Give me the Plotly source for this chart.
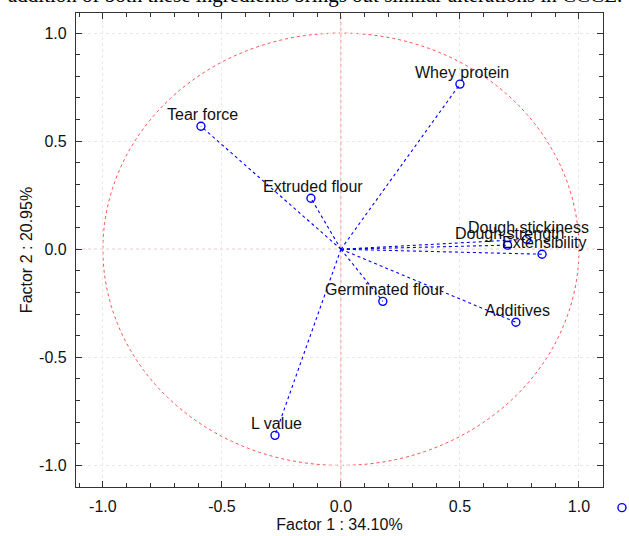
import plotly.graph_objects as go

variables = ["Whey protein", "Tear force", "Extruded flour", "Dough stickiness",
             "Dough strength", "Extensibility", "Additives", "Germinated flour", "L value"]
factor1 = [0.50, -0.588, -0.126, 0.78, 0.70, 0.845, 0.735, 0.176, -0.277]
factor2 = [0.764, 0.569, 0.236, 0.046, 0.019, -0.023, -0.338, -0.241, -0.861]

x_title = "Factor 1 : 34.10%"
y_title = "Factor 2 : 20.95%"
caption = "addition of both these ingredients brings out similar alterations in CCCE."
tick_vals = [-1.0, -0.5, 0.0, 0.5, 1.0]
tick_text = ["-1.0", "-0.5", "0.0", "0.5", "1.0"]
RADIUS = 1.0

FONT = "Arial, Liberation Sans, sans-serif"
BLUE = "#0000ff"
TXT = "#111111"

# vector lines from origin
lx, ly = [], []
for a, b in zip(factor1, factor2):
    lx += [0, a, None]
    ly += [0, b, None]

fig = go.Figure()
fig.add_trace(go.Scatter(x=lx, y=ly, mode="lines", showlegend=False, hoverinfo="skip",
                         line=dict(color=BLUE, width=1.1, dash="dot")))
fig.add_trace(go.Scatter(x=factor1, y=factor2, mode="markers", name="",
                         marker=dict(symbol="circle-open", size=8, color=BLUE, line=dict(width=1.4, color=BLUE)),
                         showlegend=True))

for name, a, b in zip(variables, factor1, factor2):
    fig.add_annotation(x=a, y=b, text=name, showarrow=False, xanchor="center", yanchor="middle",
                       xshift=2, yshift=12, font=dict(family=FONT, size=16, color=TXT))

# unit circle and zero lines (red dotted)
fig.add_shape(type="circle", xref="x", yref="y", x0=-RADIUS, y0=-RADIUS, x1=RADIUS, y1=RADIUS,
              line=dict(color="rgba(255,0,0,0.7)", width=1, dash="dot"), layer="below")
fig.add_shape(type="line", xref="x", yref="paper", x0=0, x1=0, y0=0, y1=1,
              line=dict(color="rgba(255,80,80,0.6)", width=1, dash="dot"), layer="below")
fig.add_shape(type="line", xref="paper", yref="y", x0=0, x1=1, y0=0, y1=0,
              line=dict(color="rgba(255,80,80,0.6)", width=1, dash="dot"), layer="below")

fig.add_annotation(text=caption, xref="paper", yref="paper", x=0.4535, y=1.0075,
                   xanchor="center", yanchor="bottom", showarrow=False,
                   font=dict(family="Liberation Serif, Times New Roman, serif", size=21, color="black"))

axis_common = dict(
    showline=True, linecolor="#333333", linewidth=1.2, mirror="ticks",
    ticks="inside", ticklen=6, tickcolor="#333333", tickwidth=1,
    showgrid=True, gridcolor="#e8e8e8", griddash="dot", gridwidth=1,
    zeroline=False,
    tickvals=tick_vals, ticktext=tick_text, ticklabelstandoff=5,
    tickfont=dict(family=FONT, size=16, color=TXT),
    minor=dict(ticks="inside", ticklen=4, dtick=0.1, tick0=0, tickcolor="#333333", showgrid=False),
)

fig.update_layout(
    width=629, height=536,
    margin=dict(l=76, r=26, t=13, b=49, autoexpand=False),
    paper_bgcolor="white", plot_bgcolor="white",
    xaxis=dict(range=[-1.113, 1.101], title=dict(text=x_title, font=dict(family=FONT, size=16, color=TXT), standoff=4), **axis_common),
    yaxis=dict(range=[-1.10, 1.093], title=dict(text=y_title, font=dict(family=FONT, size=16, color=TXT), standoff=2), **axis_common),
    showlegend=True,
    legend=dict(x=0.998, y=-0.0107, xanchor="left", yanchor="top", bgcolor="rgba(0,0,0,0)",
                font=dict(family=FONT, size=14), itemwidth=30),
)

fig.write_html("out.html")
